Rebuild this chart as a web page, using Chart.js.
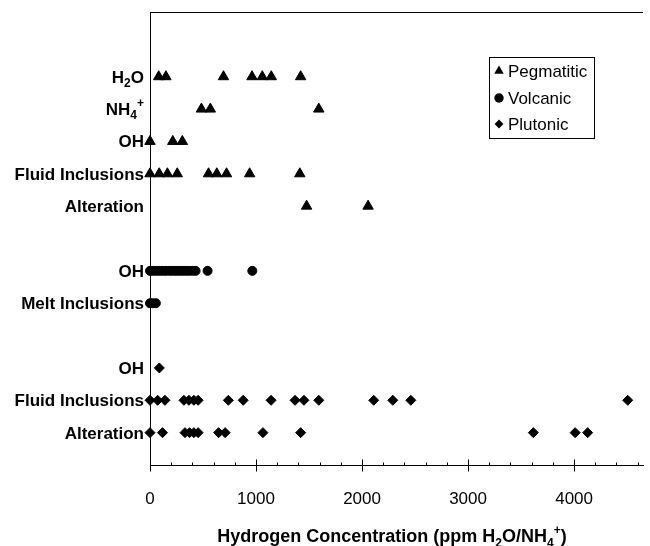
<!DOCTYPE html>
<html>
<head>
<meta charset="utf-8">
<script src="https://cdn.jsdelivr.net/npm/chart.js@4.4.1/dist/chart.umd.min.js"></script>
<style>
  html, body { margin: 0; padding: 0; background: #fff; overflow: hidden; }
  canvas { display: block; }
</style>
</head>
<body>
<canvas id="chart" width="650" height="546"></canvas>
<script>
// ============ Data ============
// rows from bottom to top, '' = empty row; _x = subscript, ^x = superscript
const rowLabels = ['', 'Alteration', 'Fluid Inclusions', 'OH', '', 'Melt Inclusions', 'OH', '',
    'Alteration', 'Fluid Inclusions', 'OH', 'NH_4^+', 'H_2O'];
const xTickLabels = [0, 1000, 2000, 3000, 4000];
const xTitle = 'Hydrogen Concentration (ppm H_2O/NH_4^+)';

// Pegmatitic (ppm)
const pegH2O = [82, 150, 693, 962, 1059, 1144, 1421];
const pegNH4 = [485, 569, 1592];
const pegOH = [0, 215, 305];
const pegFluid = [0, 87, 164, 257, 552, 630, 722, 940, 1413];
const pegAlteration = [1477, 2057];

// Volcanic
const volOH = [0, 30, 60, 90, 120, 150, 185, 215, 245, 275, 305, 335, 365, 400, 430, 543, 965];
const volMelt = [0, 25, 55];

// Plutonic
const plutOH = [88];
const plutFluid = [0, 72, 141, 320, 367, 414, 454, 739, 879, 1142, 1368, 1452, 1592, 2110, 2290, 2460, 4506];
const plutAlteration = [0, 118, 330, 373, 414, 454, 647, 709, 1065, 1421, 3616, 4010, 4128];

const FONT = "Arial, 'Liberation Sans', sans-serif";

function pts(groups) {
    const out = [];
    groups.forEach(([vals, row]) => vals.forEach(x => out.push({ x, y: row })));
    return out;
}

// ============ Rich text (sub / sup) ============
function parseRich(s) {
    const segs = [];
    let i = 0;
    while (i < s.length) {
        if (s[i] === '_' || s[i] === '^') {
            segs.push({ t: s[i + 1], k: s[i] === '_' ? 'sub' : 'sup' });
            i += 2;
        } else {
            let j = i;
            while (j < s.length && s[j] !== '_' && s[j] !== '^') j++;
            segs.push({ t: s.slice(i, j), k: 'n' });
            i = j;
        }
    }
    return segs;
}

function drawRich(ctx, s, x, y, align, size, weight) {
    const segs = parseRich(s);
    const small = Math.round(size * 0.68);
    const fontOf = k => `${weight} ${k === 'n' ? size : small}px ${FONT}`;
    let w = 0;
    segs.forEach(sg => { ctx.font = fontOf(sg.k); sg.w = ctx.measureText(sg.t).width; w += sg.w; });
    let cx = align === 'right' ? x - w : align === 'center' ? x - w / 2 : x;
    ctx.textAlign = 'left';
    ctx.textBaseline = 'alphabetic';
    segs.forEach(sg => {
        ctx.font = fontOf(sg.k);
        const dy = sg.k === 'sub' ? size * 0.25 : sg.k === 'sup' ? -size * 0.45 : 0;
        ctx.fillText(sg.t, cx, y + dy);
        cx += sg.w;
    });
}

// ============ Extras plugin ============
const extras = {
    id: 'extras',
    afterDraw(chart) {
        const { ctx, chartArea: a, scales: { x, y } } = chart;
        ctx.save();
        ctx.strokeStyle = '#000';
        ctx.fillStyle = '#000';
        ctx.lineWidth = 1;

        // top frame line
        ctx.beginPath();
        ctx.moveTo(a.left, Math.round(a.top) + 0.5);
        ctx.lineTo(a.right, Math.round(a.top) + 0.5);
        ctx.stroke();

        // x tick marks: major cross, minor inside
        const by = Math.round(a.bottom) + 0.5;
        x.ticks.forEach(t => {
            const px = Math.round(x.getPixelForValue(t.value)) + 0.5;
            const major = xTickLabels.includes(t.value);
            ctx.beginPath();
            ctx.moveTo(px, by - (major ? 6 : 3));
            ctx.lineTo(px, by + (major ? 6 : 0));
            ctx.stroke();
        });

        // row labels
        rowLabels.forEach((lab, i) => {
            if (!lab) return;
            drawRich(ctx, lab, 144, y.getPixelForValue(i) + 6, 'right', 17, 'bold');
        });

        // x title
        drawRich(ctx, xTitle, 392, 542, 'center', 18, 'bold');

        // legend
        ctx.strokeRect(489.5, 57.5, 105, 81);
        const rows = [71, 98, 124];
        const radii = [5.5, 4.7, 4.4];
        chart.data.datasets.forEach((ds, i) => {
            ctx.fillStyle = '#000';
            Chart.helpers.drawPoint(ctx, { pointStyle: ds.pointStyle, radius: radii[i], rotation: 0, borderWidth: 0 }, 499, rows[i]);
            ctx.font = `17px ${FONT}`;
            ctx.textAlign = 'left';
            ctx.textBaseline = 'alphabetic';
            ctx.fillText(ds.label, 508, rows[i] + 6);
        });
        ctx.restore();
    }
};

// ============ Chart ============
const pointBase = { backgroundColor: '#000', borderColor: '#000', borderWidth: 1, showLine: false, clip: false };

const chart = new Chart(document.getElementById('chart'), {
    type: 'scatter',
    data: {
        datasets: [
            Object.assign({
                label: 'Pegmatitic', pointStyle: 'triangle', pointRadius: 6,
                data: pts([[pegH2O, 12], [pegNH4, 11], [pegOH, 10], [pegFluid, 9], [pegAlteration, 8]])
            }, pointBase),
            Object.assign({
                label: 'Volcanic', pointStyle: 'circle', pointRadius: 4.5,
                data: pts([[volOH, 6], [volMelt, 5]])
            }, pointBase),
            Object.assign({
                label: 'Plutonic', pointStyle: 'rectRot', pointRadius: 5,
                data: pts([[plutOH, 3], [plutFluid, 2], [plutAlteration, 1]])
            }, pointBase)
        ]
    },
    options: {
        responsive: false,
        animation: false,
        events: [],
        layout: { padding: { top: 12, left: 0, right: 0, bottom: 0 } },
        plugins: { legend: { display: false }, tooltip: { enabled: false } },
        scales: {
            x: {
                type: 'linear', min: 0, max: 4650,
                grid: { display: true, drawOnChartArea: false, drawTicks: true, tickLength: 24, tickColor: 'rgba(0,0,0,0)' },
                border: { display: true, color: '#000', width: 1 },
                ticks: {
                    stepSize: 200, includeBounds: false, autoSkip: false, maxRotation: 0, padding: 0,
                    color: '#000', font: { family: FONT, size: 17 },
                    callback: v => xTickLabels.includes(v) ? String(v) : ''
                },
                afterFit(s) { s.height = 81; s.paddingLeft = 0; s.paddingRight = 0; }
            },
            y: {
                type: 'linear', min: 0, max: 14,
                grid: { display: false },
                border: { display: true, color: '#000', width: 1 },
                ticks: { display: false },
                afterFit(s) { s.width = 150; s.paddingTop = 0; s.paddingBottom = 0; }
            }
        }
    },
    plugins: [extras]
});
</script>
</body>
</html>
